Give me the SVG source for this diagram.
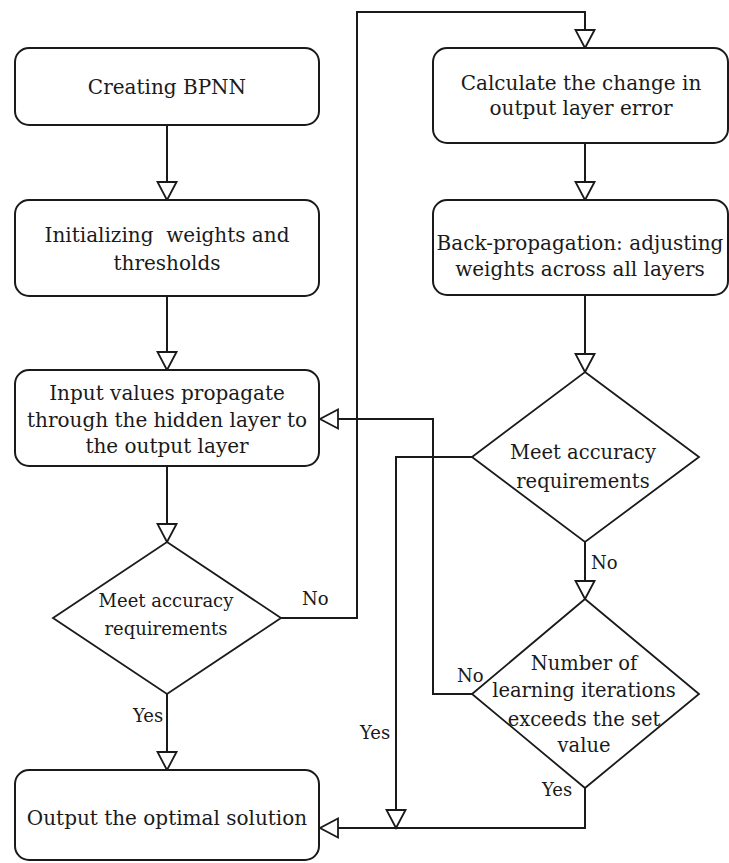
<svg xmlns="http://www.w3.org/2000/svg" width="729" height="863" viewBox="0 0 729 863">
<style>
.box{fill:#fff;stroke:#1a1a1a;stroke-width:2}
.dia{fill:#fff;stroke:#1a1a1a;stroke-width:1.8}
.t{font-family:"DejaVu Serif","Liberation Serif",serif;font-size:20px;fill:#1a1a1a;text-anchor:middle;white-space:pre}
.ts{font-size:18px}
.td{font-size:19.5px}
.lbl{font-family:"DejaVu Serif","Liberation Serif",serif;font-size:18px;fill:#1a1a1a}
.c{fill:none;stroke:#1a1a1a;stroke-width:2;marker-end:url(#arr)}
</style>
<defs>
<marker id="arr" markerUnits="userSpaceOnUse" markerWidth="24" markerHeight="24" refX="20" refY="11.5" orient="auto" overflow="visible">
<path d="M2,2 L20,11.5 L2,21 Z" fill="#fff" stroke="#1a1a1a" stroke-width="1.8" stroke-linejoin="miter"/>
</marker>
</defs>
<rect width="729" height="863" fill="#fff"/>
<g id="connectors">
<path class="c" d="M167,125 V200"/>
<path class="c" d="M167,296 V370"/>
<path class="c" d="M167,466 V542"/>
<path class="c" d="M281,618 H357 V12 H585 V48"/>
<path class="c" d="M585,143 V200"/>
<path class="c" d="M585,295 V372"/>
<path class="c" d="M585,542 V599"/>
<path class="c" d="M472,457 H396 V828"/>
<path class="c" d="M472,694 H433 V419 H320"/>
<path class="c" d="M585,788 V828 H320"/>
<path class="c" d="M167,694 V770"/>
</g>
<g id="creating-bpnn">
<rect class="box" x="15" y="48" width="304" height="77" rx="14"/>
<text class="t" x="167" y="94">Creating BPNN</text>
</g>
<g id="initializing">
<rect class="box" x="15" y="200" width="304" height="96" rx="14"/>
<text class="t" x="167" y="242" xml:space="preserve">Initializing  weights and</text>
<text class="t" x="167" y="270">thresholds</text>
</g>
<g id="input-propagate">
<rect class="box" x="15" y="370" width="304" height="96" rx="14"/>
<text class="t" x="167" y="400">Input values propagate</text>
<text class="t" x="167" y="427">through the hidden layer to</text>
<text class="t" x="167" y="453">the output layer</text>
</g>
<g id="decision-1">
<polygon class="dia" points="167,542 281,618 167,694 53,618"/>
<text class="t ts" x="166" y="607">Meet accuracy</text>
<text class="t ts" x="166" y="635">requirements</text>
</g>
<g id="output-solution">
<rect class="box" x="15" y="770" width="304" height="90" rx="14"/>
<text class="t" x="167" y="825">Output the optimal solution</text>
</g>
<g id="calc-error">
<rect class="box" x="433" y="48" width="295" height="95" rx="14"/>
<text class="t" x="581" y="90">Calculate the change in</text>
<text class="t" x="581" y="115">output layer error</text>
</g>
<g id="back-propagation">
<rect class="box" x="433" y="200" width="295" height="95" rx="14"/>
<text class="t" x="580" y="250">Back-propagation: adjusting</text>
<text class="t" x="580" y="276">weights across all layers</text>
</g>
<g id="decision-2">
<polygon class="dia" points="585,372 699,457 585,542 472,457"/>
<text class="t td" x="583" y="459">Meet accuracy</text>
<text class="t td" x="583" y="488">requirements</text>
</g>
<g id="decision-3">
<polygon class="dia" points="585,599 699,694 585,788 472,694"/>
<text class="t td" x="584" y="670">Number of</text>
<text class="t td" x="584" y="697">learning iterations</text>
<text class="t td" x="584" y="726">exceeds the set</text>
<text class="t td" x="584" y="752">value</text>
</g>
<g id="labels">
<text class="lbl" x="302" y="605">No</text>
<text class="lbl" x="133" y="722">Yes</text>
<text class="lbl" x="591" y="569">No</text>
<text class="lbl" x="457" y="682">No</text>
<text class="lbl" x="542" y="796">Yes</text>
<text class="lbl" x="360" y="739">Yes</text>
</g>
</svg>
